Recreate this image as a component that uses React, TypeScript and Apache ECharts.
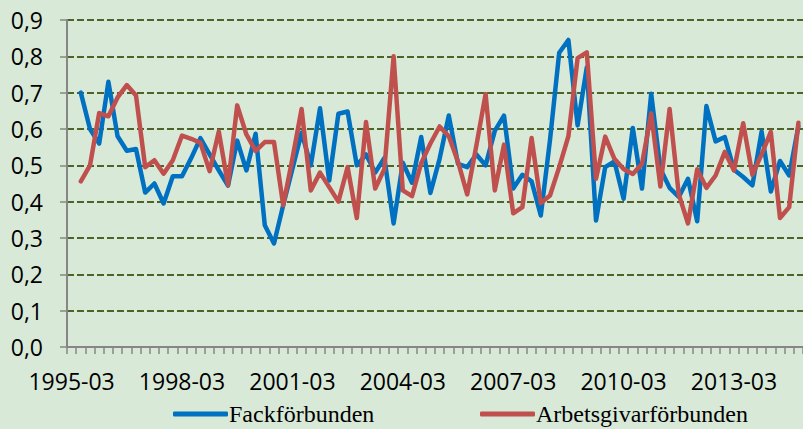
import React, { useEffect, useRef } from "react";
import * as echarts from "echarts";

// Quarterly categories 1995-03 … 2014-12
const years: number[] = [];
for (let y = 1995; y <= 2014; y++) years.push(y);
const quarterMonths = ["03", "06", "09", "12"];
const categories: string[] = [];
years.forEach((y) => quarterMonths.forEach((m) => categories.push(`${y}-${m}`)));

const seriesNames = ["Fackförbunden", "Arbetsgivarförbunden"];

const fackforbunden: (number | null)[] = [
  null, 0.70, 0.60, 0.56, 0.73, 0.58, 0.54, 0.545, 0.425, 0.45,
  0.395, 0.47, 0.47, 0.52, 0.575, 0.53, 0.486, 0.444, 0.568, 0.486,
  0.587, 0.335, 0.285, 0.39, 0.49, 0.59, 0.50, 0.657, 0.458, 0.642,
  0.648, 0.50, 0.53, 0.48, 0.52, 0.34, 0.507, 0.452, 0.578, 0.424,
  0.518, 0.637, 0.504, 0.495, 0.53, 0.50, 0.595, 0.637, 0.436, 0.474,
  0.456, 0.362, 0.57, 0.81, 0.845, 0.61, 0.77, 0.348, 0.495, 0.511,
  0.408, 0.603, 0.436, 0.697, 0.49, 0.438, 0.413, 0.463, 0.346, 0.663,
  0.566, 0.578, 0.488, 0.468, 0.445, 0.593, 0.428, 0.512, 0.472, 0.608,
];

const arbetsgivarforbunden: (number | null)[] = [
  null, 0.456, 0.50, 0.644, 0.635, 0.687, 0.721, 0.692, 0.495, 0.514,
  0.477, 0.514, 0.582, 0.573, 0.562, 0.484, 0.593, 0.446, 0.665, 0.585,
  0.54, 0.564, 0.564, 0.39, 0.518, 0.655, 0.431, 0.48, 0.44, 0.40,
  0.495, 0.355, 0.619, 0.436, 0.49, 0.80, 0.431, 0.415, 0.506, 0.56,
  0.607, 0.58, 0.51, 0.42, 0.555, 0.696, 0.431, 0.557, 0.368, 0.385,
  0.575, 0.396, 0.417, 0.495, 0.58, 0.795, 0.811, 0.463, 0.579, 0.518,
  0.49, 0.476, 0.504, 0.643, 0.442, 0.655, 0.42, 0.34, 0.489, 0.438,
  0.472, 0.537, 0.486, 0.616, 0.474, 0.53, 0.592, 0.355, 0.385, 0.617,
];

const yMin = 0;
const yMax = 0.9;
const yStep = 0.1;

const colors = ["#0070C0", "#C0504D"];
const axisGray = "#868686";
const gridGreen = "#4F6228";

export default function App() {
  const ref = useRef<HTMLDivElement>(null);

  useEffect(() => {
    if (!ref.current) return;
    const chart = echarts.init(ref.current, undefined, { renderer: "svg" });
    const axisFont = { fontFamily: "'Open Sans', sans-serif", fontSize: 23, color: "#000" };
    const legendFont = { fontFamily: "'Liberation Serif', serif", fontSize: 24, lineHeight: 24, color: "#000" };
    const legendBase = {
      top: 402,
      icon: "roundRect",
      itemWidth: 55,
      itemHeight: 5,
      itemGap: 0,
      padding: 0,
      textStyle: { ...legendFont, padding: [0, 0, 0, -4] },
    };
    chart.setOption({
      animation: false,
      backgroundColor: "transparent",
      grid: { left: 67, right: 0, top: 20, bottom: 82, containLabel: false, outerBoundsMode: "none" },
      legend: [
        { ...legendBase, left: 173, data: [seriesNames[0]] },
        { ...legendBase, left: 480, data: [seriesNames[1]] },
      ],
      xAxis: {
        type: "category",
        data: categories,
        boundaryGap: true,
        axisLine: { show: true, lineStyle: { color: axisGray, width: 2 } },
        axisTick: { show: true, interval: 0, length: 7, alignWithLabel: false, lineStyle: { color: axisGray, width: 1.5 } },
        axisLabel: { interval: 11, margin: 22, ...axisFont },
        splitLine: { show: false },
      },
      yAxis: {
        type: "value",
        min: yMin,
        max: yMax,
        interval: yStep,
        axisLine: { show: true, lineStyle: { color: axisGray, width: 2 } },
        axisTick: { show: true, length: 7, lineStyle: { color: axisGray, width: 1.5 } },
        axisLabel: {
          margin: 24,
          ...axisFont,
          formatter: (v: number) => v.toFixed(1).replace(".", ","),
        },
        splitLine: { show: true, lineStyle: { color: gridGreen, width: 2, type: [7, 3] } },
      },
      series: [
        {
          name: seriesNames[0],
          type: "line",
          data: fackforbunden,
          showSymbol: false,
          symbol: "none",
          color: colors[0],
          lineStyle: { color: colors[0], width: 4.5, cap: "round", join: "round" },
        },
        {
          name: seriesNames[1],
          type: "line",
          data: arbetsgivarforbunden,
          showSymbol: false,
          symbol: "none",
          color: colors[1],
          lineStyle: { color: colors[1], width: 4.5, cap: "round", join: "round" },
        },
      ],
    });
    return () => chart.dispose();
  }, []);

  return (
    <div
      style={{
        position: "fixed",
        left: 0,
        top: 0,
        width: 803,
        height: 429,
        background: "#D8E9D8",
        overflow: "hidden",
      }}
    >
      <div ref={ref} style={{ position: "absolute", left: 0, top: 0, width: 803, height: 429 }} />
    </div>
  );
}
